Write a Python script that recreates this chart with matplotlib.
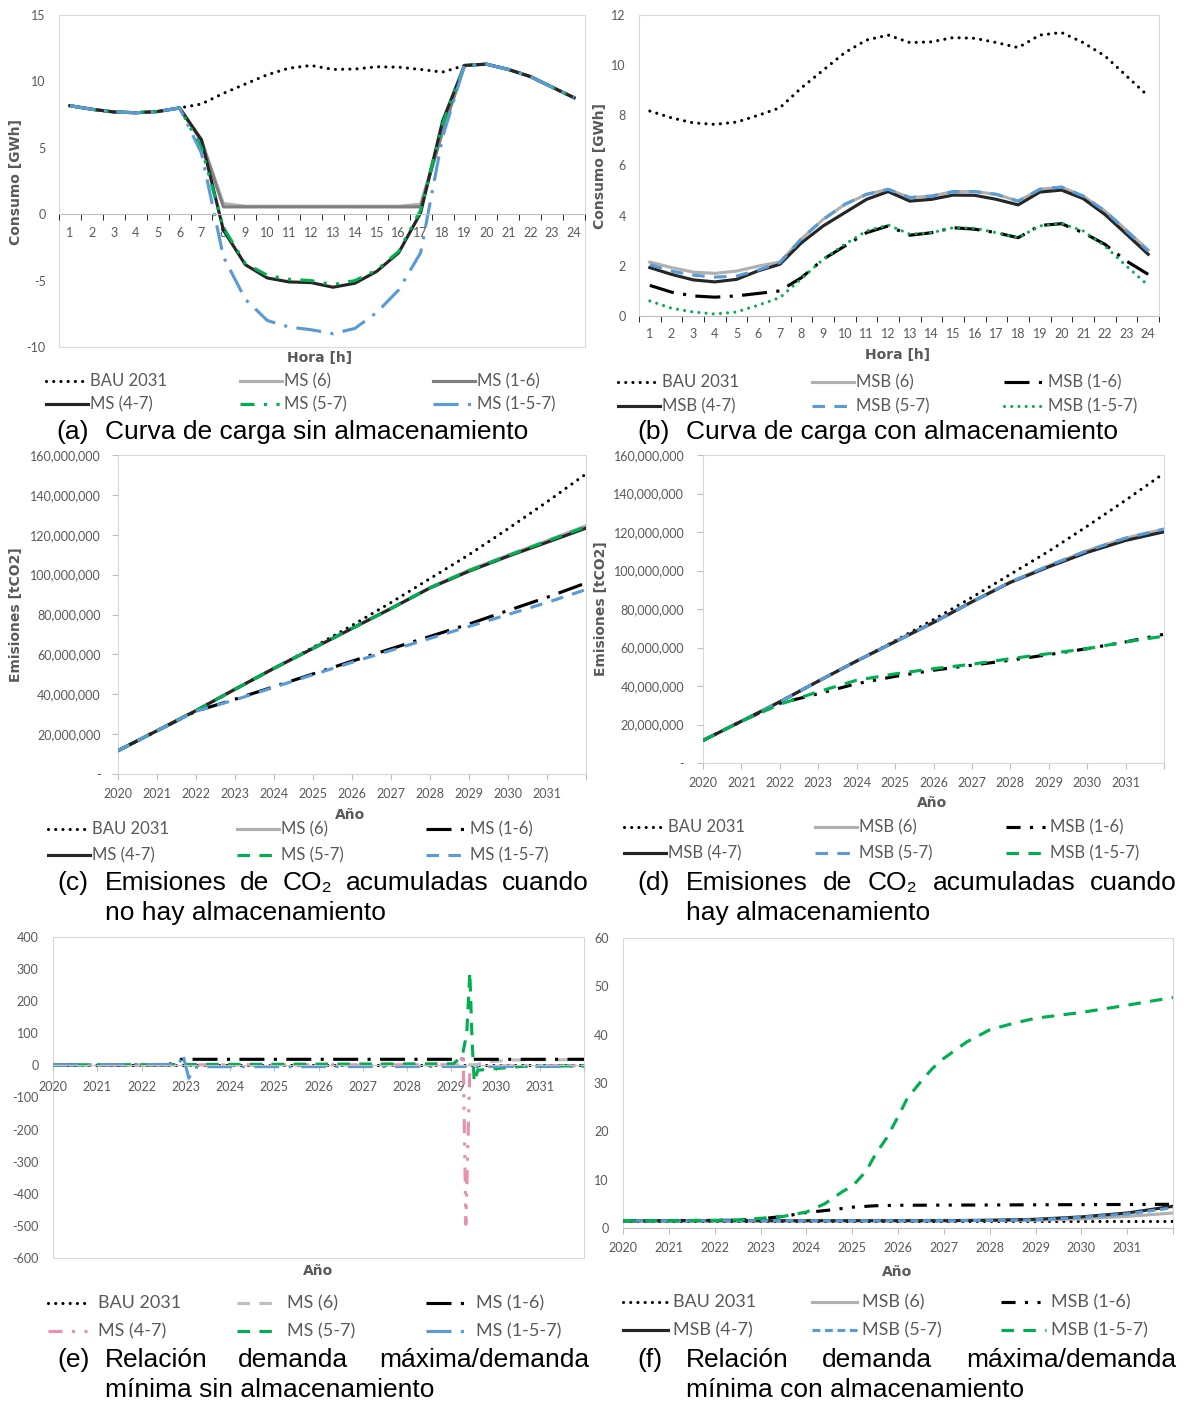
import matplotlib
matplotlib.use("Agg")
import matplotlib.pyplot as plt
import numpy as np
from matplotlib.lines import Line2D
from matplotlib.patches import Rectangle
from matplotlib.ticker import FuncFormatter

plt.rcParams["font.family"] = ["Lato", "DejaVu Sans"]
plt.rcParams["axes.unicode_minus"] = False

W, H = 1189, 1404
TXT = "#595959"

# ---------- (a) curva de carga sin almacenamiento [GWh]
horas = list(range(1, 25))
a_bau = [8.17, 7.9, 7.7, 7.64, 7.73, 8.0, 8.3, 9.1, 9.8, 10.5, 11.0, 11.2,
         10.9, 10.93, 11.1, 11.07, 10.9, 10.7, 11.2, 11.3, 10.9, 10.37, 9.57, 8.77]
a_ms6 = [8.17, 7.9, 7.7, 7.64, 7.73, 8.0, 5.6, 0.8, 0.6, 0.6, 0.6, 0.6,
         0.6, 0.6, 0.6, 0.6, 0.75, 6.3, 11.2, 11.3, 10.9, 10.37, 9.57, 8.77]
a_ms16 = [8.17, 7.9, 7.7, 7.64, 7.73, 8.0, 5.5, 0.55, 0.55, 0.55, 0.55, 0.55,
          0.55, 0.55, 0.55, 0.55, 0.55, 6.2, 11.2, 11.3, 10.9, 10.37, 9.57, 8.77]
a_ms47 = [8.17, 7.9, 7.7, 7.64, 7.73, 8.0, 5.6, -1.2, -3.8, -4.8, -5.1, -5.15,
          -5.5, -5.2, -4.3, -2.9, 0.1, 7.0, 11.2, 11.3, 10.9, 10.37, 9.57, 8.77]
a_ms57 = [8.17, 7.9, 7.7, 7.64, 7.73, 8.0, 5.0, -1.0, -3.7, -4.6, -4.9, -5.0,
          -5.3, -5.0, -4.2, -2.8, 0.3, 6.8, 11.2, 11.3, 10.9, 10.37, 9.57, 8.77]
a_ms157 = [8.17, 7.9, 7.7, 7.64, 7.73, 8.0, 4.6, -3.2, -6.4, -8.0, -8.5, -8.7,
           -9.0, -8.6, -7.4, -5.7, -2.9, 5.8, 11.2, 11.3, 10.9, 10.37, 9.57, 8.77]

# ---------- (b) curva de carga con almacenamiento [GWh]
b_bau = a_bau
b_msb6 = [2.15, 1.93, 1.75, 1.70, 1.79, 1.99, 2.15, 3.08, 3.85, 4.45, 4.85, 5.05,
          4.72, 4.78, 4.96, 4.96, 4.85, 4.58, 5.05, 5.14, 4.78, 4.19, 3.42, 2.63]
b_msb16 = [1.22, 0.95, 0.8, 0.75, 0.8, 0.9, 1.0, 1.53, 2.26, 2.79, 3.32, 3.59,
           3.22, 3.32, 3.52, 3.46, 3.32, 3.12, 3.61, 3.68, 3.32, 2.86, 2.19, 1.66]
b_msb47 = [1.93, 1.66, 1.44, 1.36, 1.46, 1.8, 2.06, 2.92, 3.59, 4.12, 4.65, 4.96,
           4.58, 4.65, 4.82, 4.81, 4.65, 4.43, 4.94, 5.02, 4.68, 4.05, 3.26, 2.46]
b_msb57 = [2.05, 1.79, 1.63, 1.55, 1.59, 1.83, 2.13, 3.08, 3.85, 4.45, 4.85, 5.05,
           4.72, 4.78, 4.96, 4.96, 4.85, 4.58, 5.05, 5.14, 4.78, 4.19, 3.39, 2.59]
b_msb157 = [0.6, 0.31, 0.16, 0.08, 0.16, 0.43, 0.73, 1.49, 2.26, 2.86, 3.39, 3.63,
            3.26, 3.32, 3.52, 3.5, 3.32, 3.12, 3.59, 3.69, 3.39, 2.79, 1.99, 1.22]

# ---------- (c) / (d) emisiones acumuladas [tCO2]
anios = list(range(2020, 2033))
anios_lbl = [str(a) for a in range(2020, 2032)] + [""]
c_bau = [11.7e6, 21.7e6, 31.8e6, 42.5e6, 53e6, 63.5e6, 74.5e6, 86e6, 98e6,
         110e6, 123e6, 136.5e6, 150.5e6]
c_ms6 = [11.7e6, 21.7e6, 31.8e6, 42.5e6, 53e6, 63e6, 73e6, 83e6, 93.5e6,
         102.3e6, 109.8e6, 117e6, 124.5e6]
c_ms16 = [11.7e6, 21.7e6, 31.5e6, 37.5e6, 43.8e6, 50.2e6, 56.6e6, 62.8e6, 69e6,
          75.2e6, 82e6, 88.6e6, 95.8e6]
c_ms47 = [11.7e6, 21.7e6, 31.8e6, 42.5e6, 53e6, 63e6, 73e6, 83e6, 93.3e6,
          101.7e6, 109.2e6, 116.2e6, 123.3e6]
c_ms57 = [11.7e6, 21.7e6, 31.8e6, 42.5e6, 53e6, 63e6, 73e6, 83e6, 93.4e6,
          102e6, 109.5e6, 116.8e6, 124e6]
c_ms157 = [11.7e6, 21.7e6, 31.5e6, 37.2e6, 43.5e6, 49.8e6, 56e6, 62e6, 68e6,
           74e6, 80e6, 86e6, 92.5e6]

d_bau = c_bau
d_msb6 = [11.7e6, 21.7e6, 31.8e6, 42.5e6, 53e6, 63e6, 73e6, 83.7e6, 94e6,
          102.5e6, 110.3e6, 116.8e6, 121.5e6]
d_msb16 = [11.7e6, 21.7e6, 31e6, 36e6, 41.2e6, 45e6, 48.2e6, 50.8e6, 53.4e6,
           56.3e6, 59.4e6, 62.9e6, 66.9e6]
d_msb47 = [11.7e6, 21.7e6, 31.8e6, 42.5e6, 53e6, 63e6, 73e6, 83.7e6, 93.8e6,
           101.9e6, 109.4e6, 115.6e6, 120.1e6]
d_msb57 = [11.7e6, 21.7e6, 31.8e6, 42.5e6, 53e6, 63e6, 73e6, 83.7e6, 94e6,
           102.5e6, 110.3e6, 116.8e6, 121.5e6]
d_msb157 = [11.7e6, 21.7e6, 30.5e6, 37e6, 43e6, 46.3e6, 49e6, 51.3e6, 54.2e6,
            56.8e6, 59.4e6, 62.9e6, 65.9e6]

# ---------- (e) relación demanda máxima/mínima sin almacenamiento
e_bau_x, e_bau = [2020, 2032], [1.5, 1.5]
e_ms6_x = [2020, 2029.55, 2029.9, 2030.4, 2032]
e_ms6 = [1.5, 2, 12, 17, 18]
e_ms16_x = [2020, 2022.6, 2022.75, 2022.9, 2032]
e_ms16 = [1.5, 2, 10, 19, 19]
e_ms47_x = [2020, 2029.18, 2029.27, 2029.33, 2029.42, 2029.6, 2030, 2032]
e_ms47 = [1.5, 2, 38, -495, -15, -6, -2, -1]
e_ms57_x = [2020, 2029.05, 2029.25, 2029.35, 2029.42, 2029.47, 2029.52, 2029.6,
            2030, 2030.6, 2032]
e_ms57 = [1.5, 5, 30, 100, 290, 80, -52, -15, -10, -3, -1]
e_ms157_x = [2020, 2022.85, 2022.93, 2023.07, 2023.2, 2023.5, 2032]
e_ms157 = [1.5, 3, 36, -40, -6, -4, -3]

# ---------- (f) relación demanda máxima/mínima con almacenamiento
f_bau_x, f_bau = [2020, 2032], [1.5, 1.5]
f_msb6_x = [2020, 2029, 2030, 2031, 2032]
f_msb6 = [1.5, 1.6, 1.9, 2.4, 3.1]
f_msb16_x = [2020, 2022.5, 2023, 2023.5, 2024, 2024.5, 2025, 2025.5, 2026, 2032]
f_msb16 = [1.5, 1.6, 1.9, 2.4, 3.2, 3.7, 4.3, 4.6, 4.7, 4.9]
f_msb47_x = [2020, 2027, 2028, 2029, 2030, 2031, 2032]
f_msb47 = [1.5, 1.5, 1.6, 1.8, 2.3, 3.1, 4.5]
f_msb57_x = f_msb47_x
f_msb57 = [1.5, 1.5, 1.55, 1.7, 2.2, 2.9, 4.2]
f_msb157_x = [2020, 2021, 2022, 2022.5, 2023, 2023.5, 2024, 2024.4, 2024.8, 2025,
              2025.3, 2025.5, 2025.75, 2026, 2026.2, 2026.5, 2026.75, 2027,
              2027.5, 2028, 2028.5, 2029, 2030, 2031, 2032]
f_msb157 = [1.5, 1.5, 1.6, 1.7, 2.0, 2.4, 3.3, 5.0, 7.6, 8.6, 11.7, 15.1, 18.6,
            23.0, 26.8, 30.3, 33.0, 35.1, 38.5, 41.0, 42.3, 43.4, 44.6, 46.1, 47.7]


# ---------- line styles
def estilo(color, ls=None, cap="butt", lw=2.25):
    d = dict(color=color, lw=lw, solid_joinstyle="round", dash_capstyle=cap)
    if ls is not None:
        d["linestyle"] = (0, ls)
    return d


PUNTOS = (0.01, 2.3)
GUION = (4, 3)
GUION_CORTO = (2.5, 1.5)
LARGO_PUNTO = (8, 3, 1, 3)
GUION_PUNTO_PUNTO = (4.5, 3, 1, 3, 1, 3)

NEGRO, GRIS_C, GRIS_O = "#262626", "#b0b0b0", "#7f7f7f"
VERDE, AZUL, ROSA = "#00b050", "#5b9bd5", "#e691b1"

s_bau = estilo("black", PUNTOS, cap="round")


def fx(x):
    return x / W


def fy(y):
    return 1 - y / H


def panel(fig, x0, y0, x1, y1):
    ax = fig.add_axes([fx(x0), fy(y1), (x1 - x0) / W, (y1 - y0) / H])
    for s in ax.spines.values():
        s.set_visible(False)
    ax.spines["bottom"].set_visible(True)
    ax.spines["bottom"].set_color("#bfbfbf")
    ax.spines["bottom"].set_linewidth(0.8)
    ax.add_patch(Rectangle((0, 0), 1, 1, transform=ax.transAxes, fill=False,
                           ec="#d9d9d9", lw=0.8, clip_on=False, zorder=0))
    ax.tick_params(labelcolor=TXT, labelsize=9, color="#bfbfbf", width=0.8)
    return ax


def dibujar(ax, series):
    for _, x, y, st in series:
        ax.plot(x, y, **st)


def eje_horas(ax):
    ax.set_xlim(0.5, 24.5)
    ax.set_xticks(horas)
    ax.set_xticklabels([str(h) for h in horas])
    ax.set_xticks(np.arange(0.5, 25, 1), minor=True)
    ax.tick_params(axis="x", which="major", length=0, pad=9)
    ax.tick_params(axis="x", which="minor", length=4)


def eje_anios(ax, pad=6):
    ax.set_xlim(2020, 2032)
    ax.set_xticks(anios)
    ax.set_xticklabels(anios_lbl)
    ax.tick_params(axis="x", length=4, pad=pad)


def titulo_eje(fig, x, y, s, rot=0):
    fig.text(fx(x), fy(y), s, ha="center", va="center", rotation=rot,
             fontsize=10, fontweight="bold", color=TXT, family="DejaVu Sans")


def leyenda(fig, series, xs, ys, hl=42, off=44, size=12):
    for i, (lab, _, _, st) in enumerate(series):
        fila, col = divmod(i, 3)
        x0, y = xs[col], ys[fila]
        fig.add_artist(Line2D([fx(x0), fx(x0 + hl)], [fy(y), fy(y)],
                              transform=fig.transFigure, **st))
        fig.text(fx(x0 + off), fy(y), lab, ha="left", va="center",
                 fontsize=size, color=TXT)


def pie(fig, letra, lineas, xl, x0, x1, ys, size=19):
    kw = dict(fontsize=size, family="Liberation Sans", color="black", va="center")
    fig.text(fx(xl), fy(ys[0]), letra, ha="left", **kw)
    r = fig.canvas.get_renderer()
    for k, linea in enumerate(lineas):
        if k < len(lineas) - 1:
            # justified line
            ts = [fig.text(0, fy(ys[k]), p, ha="left", **kw) for p in linea.split()]
            anchos = [t.get_window_extent(r).width for t in ts]
            hueco = (x1 - x0 - sum(anchos)) / (len(ts) - 1)
            x = x0
            for t, a in zip(ts, anchos):
                t.set_x(fx(x))
                x += a + hueco
        else:
            fig.text(fx(x0), fy(ys[k]), linea, ha="left", **kw)


fig = plt.figure(figsize=(W / 100, H / 100), dpi=100)

# ---- (a)
ax = panel(fig, 59, 15, 585, 347)
serie_a = [
    ("BAU 2031", horas, a_bau, s_bau),
    ("MS (6)", horas, a_ms6, estilo(GRIS_C)),
    ("MS (1-6)", horas, a_ms16, estilo(GRIS_O)),
    ("MS (4-7)", horas, a_ms47, estilo(NEGRO)),
    ("MS (5-7)", horas, a_ms57, estilo(VERDE, GUION_PUNTO_PUNTO)),
    ("MS (1-5-7)", horas, a_ms157, estilo(AZUL, LARGO_PUNTO)),
]
dibujar(ax, serie_a)
ax.set_ylim(-10, 15)
ax.set_yticks(range(-10, 16, 5))
ax.tick_params(axis="y", length=0, pad=9.5)
eje_horas(ax)
ax.spines["bottom"].set_position(("data", 0))
titulo_eje(fig, 16, 182, "Consumo [GWh]", 90)
titulo_eje(fig, 320, 358, "Hora [h]")
leyenda(fig, serie_a, [46, 240, 433], [381, 404])
pie(fig, "(a)", ["Curva de carga sin almacenamiento"], 56, 105, 590, [432])

# ---- (b)
ax = panel(fig, 639, 15, 1159, 316)
serie_b = [
    ("BAU 2031", horas, b_bau, s_bau),
    ("MSB (6)", horas, b_msb6, estilo(GRIS_C)),
    ("MSB (1-6)", horas, b_msb16, estilo("black", LARGO_PUNTO)),
    ("MSB (4-7)", horas, b_msb47, estilo(NEGRO)),
    ("MSB (5-7)", horas, b_msb57, estilo(AZUL, GUION)),
    ("MSB (1-5-7)", horas, b_msb157, estilo(VERDE, PUNTOS, cap="round")),
]
dibujar(ax, serie_b)
ax.set_ylim(0, 12)
ax.set_yticks(range(0, 13, 2))
ax.tick_params(axis="y", length=0, pad=9.5)
eje_horas(ax)
titulo_eje(fig, 600, 166, "Consumo [GWh]", 90)
titulo_eje(fig, 898, 355, "Hora [h]")
leyenda(fig, serie_b, [618, 812, 1004], [382, 406])
pie(fig, "(b)", ["Curva de carga con almacenamiento"], 637, 686, 1176, [432])

fmt_t = FuncFormatter(lambda v, p: "-" if v == 0 else f"{v:,.0f}")

# ---- (c)
ax = panel(fig, 118, 455, 586, 774)
serie_c = [
    ("BAU 2031", anios, c_bau, s_bau),
    ("MS (6)", anios, c_ms6, estilo(GRIS_C)),
    ("MS (1-6)", anios, c_ms16, estilo("black", LARGO_PUNTO)),
    ("MS (4-7)", anios, c_ms47, estilo(NEGRO)),
    ("MS (5-7)", anios, c_ms57, estilo(VERDE, GUION)),
    ("MS (1-5-7)", anios, c_ms157, estilo(AZUL, GUION)),
]
dibujar(ax, serie_c)
ax.set_ylim(0, 160e6)
ax.set_yticks(np.arange(0, 161e6, 20e6))
ax.yaxis.set_major_formatter(fmt_t)
ax.tick_params(axis="y", length=4, pad=8.5)
ax.spines["bottom"].set_color("#d9d9d9")
eje_anios(ax)
titulo_eje(fig, 16, 615, "Emisiones [tCO2]", 90)
titulo_eje(fig, 350, 815, "Año")
leyenda(fig, serie_c, [48, 237, 426], [829, 855])
pie(fig, "(c)", ["Emisiones de CO₂ acumuladas cuando", "no hay almacenamiento"],
    57, 105, 589, [883, 913])

# ---- (d)
ax = panel(fig, 703, 455, 1164, 763)
serie_d = [
    ("BAU 2031", anios, d_bau, s_bau),
    ("MSB (6)", anios, d_msb6, estilo(GRIS_C)),
    ("MSB (1-6)", anios, d_msb16, estilo("black", GUION_PUNTO_PUNTO)),
    ("MSB (4-7)", anios, d_msb47, estilo(NEGRO)),
    ("MSB (5-7)", anios, d_msb57, estilo(AZUL, GUION)),
    ("MSB (1-5-7)", anios, d_msb157, estilo(VERDE, GUION)),
]
dibujar(ax, serie_d)
ax.set_ylim(0, 160e6)
ax.set_yticks(np.arange(0, 161e6, 20e6))
ax.yaxis.set_major_formatter(fmt_t)
ax.tick_params(axis="y", length=4, pad=9.5)
ax.spines["bottom"].set_color("#d9d9d9")
eje_anios(ax)
titulo_eje(fig, 601, 609, "Emisiones [tCO2]", 90)
titulo_eje(fig, 932, 803, "Año")
leyenda(fig, serie_d, [624, 815, 1006], [827, 853])
pie(fig, "(d)", ["Emisiones de CO₂ acumuladas cuando", "hay almacenamiento"],
    637, 686, 1177, [883, 913])

# ---- (e)
ax = panel(fig, 53, 937, 584, 1258)
serie_e = [
    ("BAU 2031", e_bau_x, e_bau, s_bau),
    ("MS (6)", e_ms6_x, e_ms6, estilo("#bfbfbf", GUION)),
    ("MS (1-6)", e_ms16_x, e_ms16, estilo("black", LARGO_PUNTO)),
    ("MS (4-7)", e_ms47_x, e_ms47, estilo(ROSA, GUION_PUNTO_PUNTO)),
    ("MS (5-7)", e_ms57_x, e_ms57, estilo(VERDE, GUION)),
    ("MS (1-5-7)", e_ms157_x, e_ms157, estilo(AZUL, LARGO_PUNTO)),
]
dibujar(ax, serie_e)
ax.set_ylim(-600, 400)
ax.set_yticks(range(-600, 401, 100))
ax.tick_params(axis="y", length=0, pad=10.5)
eje_anios(ax, pad=7)
ax.spines["bottom"].set_position(("data", 0))
titulo_eje(fig, 318, 1271, "Año")
leyenda(fig, serie_e, [48, 237, 426], [1303, 1331], hl=42, off=50, size=13)
pie(fig, "(e)", ["Relación demanda máxima/demanda", "mínima sin almacenamiento"],
    57, 105, 589, [1360, 1390])

# ---- (f)
ax = panel(fig, 623, 938, 1173, 1228)
serie_f = [
    ("BAU 2031", f_bau_x, f_bau, s_bau),
    ("MSB (6)", f_msb6_x, f_msb6, estilo(GRIS_C)),
    ("MSB (1-6)", f_msb16_x, f_msb16, estilo("black", GUION_PUNTO_PUNTO)),
    ("MSB (4-7)", f_msb47_x, f_msb47, estilo(NEGRO)),
    ("MSB (5-7)", f_msb57_x, f_msb57, estilo(AZUL, GUION_CORTO)),
    ("MSB (1-5-7)", f_msb157_x, f_msb157, estilo(VERDE, GUION)),
]
dibujar(ax, serie_f)
ax.set_ylim(0, 60)
ax.set_yticks(range(0, 61, 10))
ax.tick_params(axis="y", length=0, pad=10.5)
eje_anios(ax)
titulo_eje(fig, 897, 1272, "Año")
leyenda(fig, serie_f, [623, 812, 1001], [1302, 1330], hl=45, off=50, size=13)
pie(fig, "(f)", ["Relación demanda máxima/demanda", "mínima con almacenamiento"],
    637, 686, 1176, [1360, 1390])

fig.savefig("out.png", dpi=100)
